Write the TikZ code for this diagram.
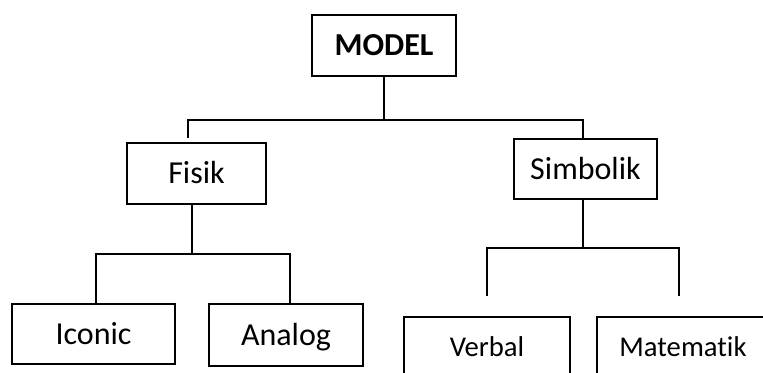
\documentclass[tikz,border=0pt]{standalone}
\usepackage{fontspec}
\setmainfont[Ligatures=NoCommon]{Carlito}

\begin{document}
\begin{tikzpicture}[x=0.75pt,y=-0.75pt,
		kotak/.style={draw,line width=1.2pt,inner sep=0pt,minimum height=45.75pt,
			font=\fontsize{24pt}{28pt}\selectfont,text height=15.2pt,text depth=0pt},
		kotakkecil/.style={kotak,font=\fontsize{21.5pt}{25pt}\selectfont,text height=13.6pt},
		garis/.style={line width=1.2pt}]
		\useasboundingbox (0,0) rectangle (763,373);
		
		\node[kotak,minimum width=108pt] (model) at (384,45.5) {\bfseries MODEL};
		\node[kotak,minimum width=104.25pt] (fisik) at (196.5,173.5) {Fisik};
		\node[kotak,minimum width=107.25pt,minimum height=45pt] (simbolik) at (585.5,169) {Simbolik};
		\node[kotak,minimum width=122.25pt,minimum height=45pt] (iconic) at (93.5,334) {Iconic};
		\node[kotak,minimum width=115.5pt,minimum height=46.5pt] (analog) at (286,335) {Analog};
		\node[kotakkecil,minimum width=124.5pt] (verbal) at (487,347.5) {Verbal};
		\node[kotakkecil,minimum width=129pt] (matematik) at (683,347.5) {Matematik};
		
		% cabang MODEL
		\coordinate (modelbar) at (384,120);
		\coordinate (fisikdrop) at (188,138);
		\coordinate (simbolikdrop) at (583,139);
		\draw[garis] (model.south) -- (modelbar);
		\draw[garis] (fisikdrop) |- (modelbar) -| (simbolikdrop);
		
		% cabang Fisik
		\coordinate (fisikstem) at (192,204);
		\coordinate (fisikbar) at (192,254);
		\coordinate (iconicdrop) at (96,304);
		\coordinate (analogdrop) at (290,304);
		\draw[garis] (fisikstem) -- (fisikbar);
		\draw[garis] (iconicdrop) |- (fisikbar) -| (analogdrop);
		
		% cabang Simbolik
		\coordinate (simbolikstem) at (583,199);
		\coordinate (simbolikbar) at (583,248);
		\coordinate (verbaldrop) at (487,296);
		\coordinate (matematikdrop) at (679,296);
		\draw[garis] (simbolikstem) -- (simbolikbar);
		\draw[garis] (verbaldrop) |- (simbolikbar) -| (matematikdrop);
	\end{tikzpicture}
\end{document}
